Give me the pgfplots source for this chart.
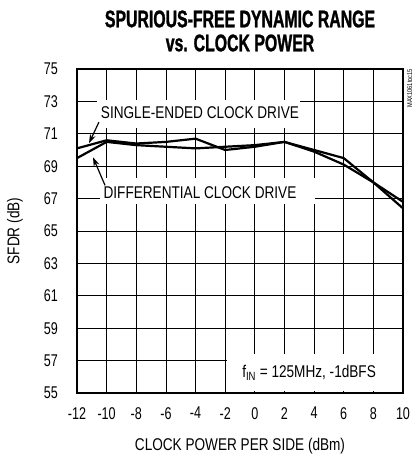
\documentclass[border=0pt]{standalone}
\usepackage{fontspec}
\setmainfont{Liberation Sans}[FakeStretch=0.80]
\newfontfamily\titlefont{Liberation Sans}[FakeStretch=0.66, FakeBold=1.2]
\newfontfamily\tickfont{Liberation Sans}[FakeStretch=0.74]
\usepackage{pgfplots}
\pgfplotsset{compat=1.18}
\usepackage{pgfplotstable}
\usetikzlibrary{arrows.meta}

\pgfplotstableread{
x y
-12 70.1
-10 70.6
-8 70.4
-6 70.5
-4 70.7
-2 70.0
0 70.2
2 70.5
4 70.0
6 69.5
8 68.0
10 66.4
}\singleended

\pgfplotstableread{
x y
-12 69.5
-10 70.5
-8 70.3
-6 70.2
-4 70.1
-2 70.2
0 70.3
2 70.5
4 69.9
6 69.1
8 68.0
10 66.8
}\differential

\begin{document}
\begin{tikzpicture}
\path[use as bounding box] (-77pt,-62pt) rectangle (336pt,393pt);
\begin{axis}[
  at={(0pt,0pt)}, anchor=south west,
  scale only axis, width=326pt, height=324pt,
  xmin=-12, xmax=10, ymin=55, ymax=75,
  xtick={-12,-10,...,10},
  xticklabels={-12,-10,-8,-6,-4,-2,0,2,4,6,8,10},
  ytick={55,57,...,75},
  yticklabels={55,57,59,61,63,65,67,69,71,73,75},
  grid=major,
  major grid style={black, line width=0.8pt},
  axis line style={line width=2.4pt},
  major tick length=0pt,
  tick style={draw=none},
  /pgf/number format/assume math mode=true,
  ticklabel style={font=\tickfont\fontsize{17}{19}\selectfont},
  xticklabel style={anchor=north, inner sep=0pt, yshift=-14pt},
  yticklabel style={anchor=east, inner sep=0pt, xshift=-19pt},
  xlabel={CLOCK POWER PER SIDE (dBm)},
  ylabel={SFDR (dB)},
  label style={font=\fontsize{17}{19}\selectfont},
  xlabel style={at={(axis description cs:0.5,-0.165)}, anchor=center},
  ylabel style={at={(axis description cs:-0.19,0.5)}, anchor=center},
  clip=false,
]
\addplot[black, line width=2.2pt] table[x=x,y=y] {\singleended};
\addplot[black, line width=2.2pt] table[x=x,y=y] {\differential};

\fill[white] (axis cs:-10.65,71.35) rectangle (axis cs:3.05,73.1);
\node[font=\fontsize{17}{19}\selectfont] at (axis cs:-3.7,72.28) {SINGLE-ENDED CLOCK DRIVE};
\fill[white] (axis cs:-10.45,66.64) rectangle (axis cs:4.06,68.25);
\node[font=\fontsize{17}{19}\selectfont] at (axis cs:-3.7,67.38) {DIFFERENTIAL CLOCK DRIVE};
\fill[white] (axis cs:-1.88,55.1) rectangle (axis cs:9.95,57.41);
\node[font=\fontsize{17}{19}\selectfont] at (axis cs:3.66,56.24) {f\textsubscript{IN} = 125MHz, -1dBFS};

\draw[black, line width=1.2pt, -{Stealth[length=9pt,width=6pt]}] (axis cs:-10.52,71.72) -- (axis cs:-11.19,70.42);
\draw[black, line width=1.2pt, -{Stealth[length=9pt,width=6pt]}] (axis cs:-10.11,67.82) -- (axis cs:-10.92,69.55);

\draw[black, line width=2.4pt] (rel axis cs:0,0) rectangle (rel axis cs:1,1);

\node[rotate=90, font=\fontsize{7}{8}\selectfont, anchor=center] at (axis cs:10.45,73.8) {MAX1061toc15};
\end{axis}
\node[font=\titlefont\bfseries\fontsize{24}{26}\selectfont, align=center] at (163pt,362pt) {SPURIOUS-FREE DYNAMIC RANGE\\[-2pt] vs. CLOCK POWER};
\end{tikzpicture}
\end{document}
